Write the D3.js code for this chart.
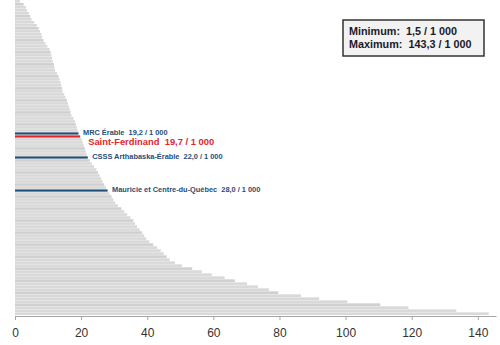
<!DOCTYPE html>
<html><head><meta charset="utf-8">
<script src="https://cdn.jsdelivr.net/npm/d3@7"></script>
<style>html,body{margin:0;padding:0;background:#fff;}svg{display:block;}</style>
</head><body>
<svg id="c" width="500" height="345"></svg>
<script>
// Rates per 1 000, sorted ascending (top to bottom)
const values = [1.5,2.6,3.3,3.6,4.2,4.6,5.0,5.8,6.6,7.2,7.6,8.0,8.2,8.6,9.2,9.8,10.5,10.8,11.0,11.2,
11.4,11.8,11.9,12.1,12.7,13.2,13.5,13.8,14.0,14.2,14.4,14.9,15.3,15.7,16.0,16.3,16.6,16.8,17.1,17.7,
18.1,18.4,18.7,19.0,19.2,19.7,20.2,20.5,20.8,21.1,21.4,21.7,22.0,22.6,23.2,23.9,24.6,25.1,25.6,26.1,
26.5,27.0,27.5,28.0,28.6,29.2,29.7,30.3,31.1,32.2,33.1,33.9,34.9,35.8,36.3,36.9,37.7,38.4,39.1,39.7,
40.6,41.8,43.0,44.1,45.0,45.9,46.8,48.4,50.5,53.6,56.5,59.5,63.4,66.5,70.2,73.5,76.8,79.6,86.5,92.0,
100.5,110.5,119.0,133.5,143.3];
const highlightLabels = ["MRC Érable","Saint-Ferdinand","CSSS Arthabaska-Érable","Mauricie et Centre-du-Québec"];
const highlightValues = [19.2,19.7,22.0,28.0];
const highlightKinds = ["region","local","region","region"];
const xTicks = [0,20,40,60,80,100,120,140];
const minValue = 1.5, maxValue = 143.3;

const svg = d3.select("#c");
const fmt = v => d3.format(".1f")(v).replace(".", ",");
const x = d3.scaleLinear().domain([0,145.5]).range([15,496]);
const y = d3.scaleBand().domain(d3.range(values.length)).range([0,315]).paddingInner(0.12);

svg.append("g").selectAll("rect").data(values).join("rect")
  .attr("x", x(0)).attr("y",(d,i)=>y(i))
  .attr("width", d=>x(d)-x(0)).attr("height", y.bandwidth())
  .attr("fill", (d,i)=> i%4===1 ? "#d0d0d0" : "#d9d9d9");

const hl = highlightValues.map((v,k)=>({v, label:highlightLabels[k], kind:highlightKinds[k], i: values.indexOf(v)}));
const colorOf = k => k==="local" ? "#e3262c" : "#1f4e79";

svg.append("g").selectAll("rect").data(hl).join("rect")
  .attr("x", x(0)).attr("y", d=>y(d.i)+0.3)
  .attr("width", d=>x(d.v)-x(0)).attr("height", y.bandwidth()-0.6)
  .attr("fill", d=>colorOf(d.kind));

svg.append("g").selectAll("text").data(hl).join("text")
  .attr("x", d=>x(d.v)+ (d.kind==="local"? 8 : 4.5))
  .attr("y", d=>y(d.i)+y.bandwidth()/2 + (d.kind==="local"? 6 : 0))
  .attr("dominant-baseline","middle")
  .attr("font-family","'Liberation Sans', Arial, sans-serif")
  .attr("font-weight","bold")
  .attr("font-size", d=>d.kind==="local"? 9.4 : 7.4)
  .attr("fill", d=>colorOf(d.kind))
  .attr("xml:space","preserve")
  .text(d=>`${d.label}  ${fmt(d.v)} / 1 000`);

// axis
const ax = svg.append("g").attr("transform","translate(0,316)")
  .call(d3.axisBottom(x).tickValues(xTicks).tickSize(4).tickSizeOuter(0).tickFormat(d3.format("d")));
ax.select(".domain").attr("stroke","#a6a6a6");
ax.selectAll(".tick line").attr("stroke","#a6a6a6");
ax.selectAll(".tick text").attr("fill","#333").attr("font-size",12)
  .attr("font-family","'Liberation Sans', Arial, sans-serif").attr("dy","1.2em");

// min/max box
const box = svg.append("g");
box.append("rect").attr("x",343).attr("y",20).attr("width",141).attr("height",36)
  .attr("fill","#f2f2f2").attr("stroke","#333").attr("stroke-width",1.5);
box.selectAll("text").data([["Minimum:", minValue],["Maximum:", maxValue]]).join("text")
  .attr("x",349).attr("y",(d,i)=>32.5+i*12.5).attr("dominant-baseline","middle")
  .attr("font-family","'Liberation Sans', Arial, sans-serif").attr("font-weight","bold")
  .attr("font-size",10.8).attr("fill","#1a1a2a").attr("xml:space","preserve")
  .text(d=>`${d[0]}  ${fmt(d[1])} / 1 000`);
</script>
</body></html>
